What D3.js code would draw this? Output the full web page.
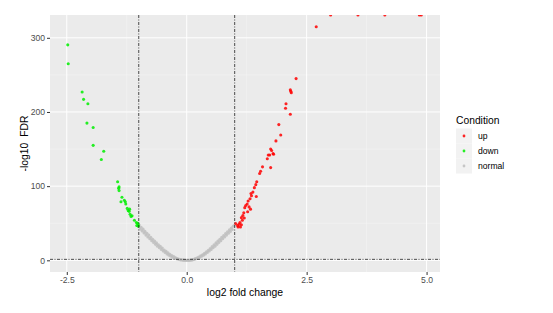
<!DOCTYPE html>
<html>
<head>
<meta charset="utf-8">
<script src="https://cdn.jsdelivr.net/npm/d3@7"></script>
<style>
  body { margin: 0; background: #fff; }
  svg { display: block; font-family: "Liberation Sans", Arial, sans-serif; }
</style>
</head>
<body>
<svg class="chart"></svg>
<script>
// log2 fold change / -log10 FDR pairs
const up = [
  [1.02, 49.5], [1.06, 47], [1.07, 45], [1.09, 48.5], [1.11, 51], [1.12, 45], [1.14, 48],
  [1.14, 57.5], [1.16, 54], [1.17, 60.5], [1.19, 64], [1.20, 57], [1.21, 71], [1.23, 74],
  [1.26, 76], [1.27, 65.5], [1.28, 80], [1.30, 72], [1.32, 83], [1.33, 69], [1.34, 90],
  [1.35, 87], [1.38, 92], [1.41, 98], [1.44, 102], [1.45, 86], [1.46, 106], [1.52, 117],
  [1.54, 120], [1.58, 126], [1.68, 137], [1.70, 142], [1.73, 142], [1.75, 125], [1.75, 150],
  [1.77, 148], [1.80, 144], [1.81, 143], [1.86, 161], [1.92, 183], [1.96, 169], [2.06, 205],
  [2.07, 211], [2.16, 197], [2.16, 230], [2.17, 228], [2.18, 226], [2.28, 245], [2.70, 315],
  [3.00, Infinity], [3.57, Infinity], [4.13, Infinity], [4.85, Infinity], [4.89, Infinity]
];
const down = [
  [-2.48, 290.5], [-2.47, 265], [-2.18, 227], [-2.15, 217], [-2.06, 211], [-2.08, 185],
  [-1.95, 179], [-1.95, 155], [-1.73, 147], [-1.78, 136], [-1.44, 106], [-1.41, 99],
  [-1.42, 97], [-1.41, 94], [-1.35, 85], [-1.37, 79], [-1.30, 81], [-1.28, 79], [-1.27, 76],
  [-1.24, 70], [-1.22, 67], [-1.20, 66], [-1.19, 69], [-1.18, 62], [-1.16, 59], [-1.14, 60],
  [-1.09, 54], [-1.05, 51], [-1.02, 50], [-1.04, 47], [-1.01, 48], [-1.01, 46]
];
const normal = [
  [-0.99, 47.5], [-0.95, 44.5], [-0.91, 42], [-0.87, 39], [-0.83, 36.5], [-0.79, 34],
  [-0.75, 31], [-0.71, 28.5], [-0.67, 26], [-0.63, 23.5], [-0.59, 21], [-0.55, 19],
  [-0.51, 16.5], [-0.47, 14], [-0.43, 12], [-0.39, 10], [-0.35, 8], [-0.31, 6.5],
  [-0.27, 5], [-0.23, 3.5], [-0.19, 2.5], [-0.15, 1.5], [-0.11, 0.8], [-0.07, 0.3], [-0.03, 0.1],
  [-0.97, 42], [-0.93, 39.5], [-0.89, 37], [-0.85, 34], [-0.81, 31.5], [-0.77, 29],
  [-0.73, 26.5], [-0.69, 24], [-0.65, 21.5], [-0.61, 19], [-0.57, 17], [-0.53, 14.5],
  [-0.49, 12.5], [-0.45, 10.5], [-0.41, 8.5], [-0.37, 7], [-0.33, 5.5], [-0.29, 4],
  [-0.25, 3], [-0.21, 2], [-0.17, 1.2], [-0.13, 0.6], [-0.09, 0.3], [-0.05, 0.1], [-0.01, 0],
  [0.01, 0], [0.05, 0.1], [0.09, 0.4], [0.13, 1], [0.17, 2], [0.21, 3], [0.25, 4.5],
  [0.29, 6], [0.33, 7.5], [0.37, 9.5], [0.41, 11.5], [0.45, 13.5], [0.49, 16], [0.53, 18.5],
  [0.57, 21], [0.61, 23.5], [0.65, 26], [0.69, 28.5], [0.73, 31], [0.77, 33.5], [0.81, 36],
  [0.85, 38.5], [0.89, 41], [0.93, 43.5], [0.97, 46], [0.99, 47],
  [0.03, 0], [0.07, 0.2], [0.11, 0.5], [0.15, 1.2], [0.19, 2], [0.23, 3], [0.27, 4],
  [0.31, 5.5], [0.35, 7], [0.39, 8.5], [0.43, 10.5], [0.47, 12.5], [0.51, 14.5], [0.55, 17],
  [0.59, 19], [0.63, 21.5], [0.67, 24], [0.71, 26.5], [0.75, 29], [0.79, 31.5], [0.83, 34],
  [0.87, 36.5], [0.91, 39], [0.95, 41.5]
];

const conditions = ['up', 'down', 'normal'];
const xTicks = [-2.5, 0, 2.5, 5];
const xMinor = [-1.25, 1.25, 3.75];
const yTicks = [0, 100, 200, 300];
const yMinor = [50, 150, 250];
const fcCut = [-1, 1];
const fdrCut = -Math.log10(0.05);

const width = 553, height = 313;
const margin = {top: 15, right: 113, bottom: 41, left: 50};
const pw = width - margin.left - margin.right,
      ph = height - margin.top - margin.bottom;

const color = d3.scaleOrdinal().domain(conditions).range(['#ff0000', '#00ee00', '#bebebe']);

const x = d3.scaleLinear().domain([-2.85, 5.28]).range([0, pw]);
const y = d3.scaleLinear().domain([-15.75, 330.75]).range([ph, 0]);
const yPos = v => isFinite(v) ? y(v) : 0;

const svg = d3.select('.chart').attr('width', width).attr('height', height);

svg.append('defs').append('clipPath').attr('id', 'panel')
  .append('rect').attr('width', pw).attr('height', ph);

const g = svg.append('g').attr('transform', `translate(${margin.left},${margin.top})`);

g.append('rect').attr('width', pw).attr('height', ph).attr('fill', '#ebebeb');

// grid
g.selectAll('.xminor').data(xMinor).enter().append('line')
  .attr('x1', d => x(d)).attr('x2', d => x(d)).attr('y1', 0).attr('y2', ph)
  .attr('stroke', '#f7f7f7').attr('stroke-width', 0.5);
g.selectAll('.yminor').data(yMinor).enter().append('line')
  .attr('y1', d => y(d)).attr('y2', d => y(d)).attr('x1', 0).attr('x2', pw)
  .attr('stroke', '#f7f7f7').attr('stroke-width', 0.5);
g.selectAll('.xmajor').data(xTicks).enter().append('line')
  .attr('x1', d => x(d)).attr('x2', d => x(d)).attr('y1', 0).attr('y2', ph)
  .attr('stroke', '#fff').attr('stroke-width', 1);
g.selectAll('.ymajor').data(yTicks).enter().append('line')
  .attr('y1', d => y(d)).attr('y2', d => y(d)).attr('x1', 0).attr('x2', pw)
  .attr('stroke', '#fff').attr('stroke-width', 1);

// points
const pts = g.append('g').attr('clip-path', 'url(#panel)');
[['normal', normal], ['down', down], ['up', up]].forEach(([cond, data]) => {
  pts.selectAll('.p-' + cond).data(data).enter().append('circle')
    .attr('cx', d => x(d[0]))
    .attr('cy', d => yPos(d[1]))
    .attr('r', 1.55)
    .attr('fill', color(cond))
    .attr('fill-opacity', 0.85);
});

// threshold lines
const dash = '3,1.5,1,1.5';
g.selectAll('.vcut').data(fcCut).enter().append('line')
  .attr('x1', d => x(d)).attr('x2', d => x(d)).attr('y1', 0).attr('y2', ph)
  .attr('stroke', '#222').attr('stroke-width', 0.8).attr('stroke-dasharray', dash);
g.append('line')
  .attr('x1', 0).attr('x2', pw).attr('y1', y(fdrCut)).attr('y2', y(fdrCut))
  .attr('stroke', '#222').attr('stroke-width', 0.8).attr('stroke-dasharray', dash);

// axes
const xAxis = g.append('g').attr('transform', `translate(0,${ph})`)
  .call(d3.axisBottom(x).tickValues(xTicks).tickFormat(d3.format('.1f')).tickSize(3).tickPadding(2));
const yAxis = g.append('g')
  .call(d3.axisLeft(y).tickValues(yTicks).tickSize(3).tickPadding(2));
[xAxis, yAxis].forEach(a => {
  a.select('.domain').remove();
  a.selectAll('line').attr('stroke', '#333');
  a.selectAll('text').attr('fill', '#4d4d4d').style('font-size', '8.6px')
    .style('font-family', '"Liberation Sans", Arial, sans-serif');
});
xAxis.selectAll('text').text(d => d < 0 ? '-' + d3.format('.1f')(-d) : d3.format('.1f')(d));

g.append('text')
  .attr('x', pw / 2).attr('y', ph + 24)
  .attr('text-anchor', 'middle').style('font-size', '10.4px').attr('fill', '#000')
  .text('log2 fold change');
g.append('text')
  .attr('transform', `translate(${-22},${ph / 2}) rotate(-90)`)
  .attr('text-anchor', 'middle').style('font-size', '10.4px').attr('fill', '#000')
  .attr('xml:space', 'preserve').style('white-space', 'pre')
  .text('-log10  FDR');

// legend
const legend = svg.append('g').attr('transform', 'translate(456,116)');
legend.append('text').attr('x', 0).attr('y', 8)
  .style('font-size', '10.3px').attr('fill', '#000').text('Condition');
const item = legend.selectAll('.item').data(conditions).enter().append('g')
  .attr('transform', (d, i) => `translate(0,${12.5 + i * 15})`);
item.append('rect').attr('width', 16).attr('height', 15).attr('fill', '#f2f2f2');
item.append('circle').attr('cx', 8).attr('cy', 7.5).attr('r', 1.4)
  .attr('fill', d => color(d)).attr('fill-opacity', 0.85);
item.append('text').attr('x', 22).attr('y', 10.5)
  .style('font-size', '8.6px').attr('fill', '#000').text(d => d);
</script>
</body>
</html>
